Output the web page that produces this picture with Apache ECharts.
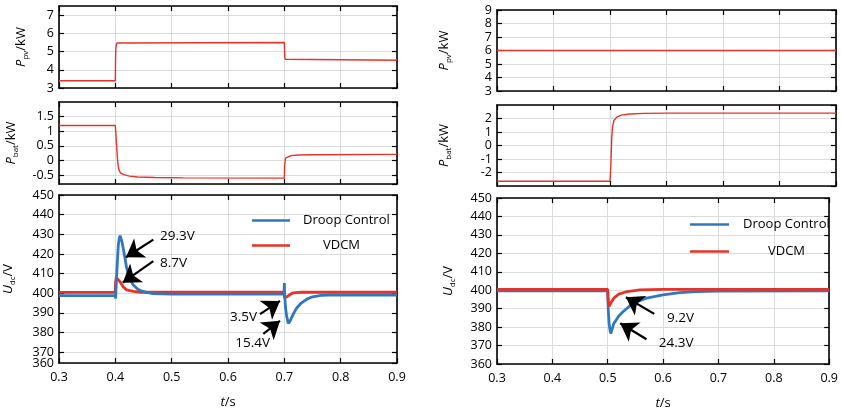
<!DOCTYPE html>
<html>
<head>
<meta charset="utf-8">
<script src="https://cdn.jsdelivr.net/npm/echarts@6/dist/echarts.min.js"></script>
<style>
  html, body { margin: 0; padding: 0; background: #fff; }
  #chart { width: 841px; height: 414px; }
</style>
</head>
<body>
<div id="chart"></div>
<script>
// ---- Case A (left column): PV step at 0.4 s and 0.7 s ----
const pvPowerA = [[0.3,3.4],[0.4,3.4],[0.4004,4.6],[0.4008,5.1],[0.4015,5.35],[0.403,5.47],[0.406,5.5],
  [0.7,5.5],[0.7004,5.0],[0.7008,4.7],[0.7015,4.58],[0.703,4.53],[0.9,4.52]];
const batPowerA = [[0.3,1.2],[0.4,1.2],[0.4005,1.25],[0.402,0.6],[0.404,0.0],[0.406,-0.3],[0.409,-0.42],
  [0.415,-0.48],[0.425,-0.53],[0.44,-0.56],[0.47,-0.58],[0.52,-0.59],[0.7,-0.6],[0.7005,-0.2],[0.702,0.08],
  [0.705,0.14],[0.712,0.17],[0.725,0.19],[0.75,0.2],[0.9,0.21]];
const udcDroopA = [[0.3,398.8],[0.3999,398.8],[0.4005,397.3],[0.4012,402],[0.4024,409.6],[0.404,418],
  [0.4053,424.5],[0.407,428],[0.4085,429.3],[0.41,428.6],[0.412,426],[0.416,419.7],[0.42,413],[0.425,407.9],
  [0.431,404.5],[0.44,402],[0.4485,400.9],[0.466,399.8],[0.5,399.6],[0.6995,399.6],[0.7,405.2],[0.7005,399.5],
  [0.702,393],[0.704,388.5],[0.707,384.6],[0.71,385.8],[0.716,389.5],[0.722,392.5],[0.73,395],[0.74,397],
  [0.75,398.2],[0.765,398.9],[0.78,399.1],[0.9,399.1]];
const udcVdcmA = [[0.3,400.4],[0.3999,400.4],[0.4003,405],[0.4015,408],[0.403,408.7],[0.405,407.5],
  [0.4083,405.9],[0.4142,403.2],[0.4201,401.7],[0.432,400.9],[0.445,400.5],[0.7,400.5],[0.7003,397.5],
  [0.7008,396.5],[0.703,397.3],[0.706,398.5],[0.709,399.4],[0.714,400],[0.72,400.3],[0.73,400.5],[0.9,400.5]];

// ---- Case B (right column): load step at 0.5 s ----
const pvPowerB = [[0.3,6],[0.9,6]];
const batPowerB = [[0.3,-2.65],[0.5,-2.65],[0.5015,-1.5],[0.503,0.5],[0.5045,1.4],[0.507,1.85],[0.512,2.1],
  [0.52,2.25],[0.535,2.33],[0.56,2.38],[0.6,2.4],[0.9,2.4]];
const udcDroopB = [[0.3,399.7],[0.5,399.7],[0.5005,394],[0.501,389],[0.5025,382],[0.504,378.5],[0.5055,376.5],
  [0.507,377.3],[0.5107,381.8],[0.52,386],[0.5285,388.6],[0.546,393],[0.57,395.7],[0.6,397.5],[0.63,398.7],
  [0.66,399.2],[0.7,399.5],[0.9,399.6]];
const udcVdcmB = [[0.3,400.5],[0.5,400.5],[0.5005,396],[0.5015,392.5],[0.503,391.3],[0.5052,393],[0.511,395.7],
  [0.52,397.9],[0.535,399.3],[0.558,400.2],[0.6,400.5],[0.9,400.5]];

// ---- deviation callouts (data coordinates) ----
const arrowsA = [
  { from: [0.4674, 427.3], to: [0.4189, 418.3] },
  { from: [0.4674, 416.3], to: [0.4131, 405.4] },
  { from: [0.6568, 389.4], to: [0.6923, 396.1] },
  { from: [0.6627, 379.3], to: [0.6923, 386.0] }
];
const calloutsA = [
  { text: '29.3V', at: [0.4793, 428.9], side: 'right' },
  { text: '8.7V',  at: [0.4793, 415.2], side: 'right' },
  { text: '3.5V',  at: [0.6515, 388.0], side: 'left' },
  { text: '15.4V', at: [0.6746, 374.7], side: 'left' }
];
const arrowsB = [
  { from: [0.584, 387.2], to: [0.5328, 396.2] },
  { from: [0.570, 373.4], to: [0.5225, 382.1] }
];
const calloutsB = [
  { text: '9.2V',  at: [0.6071, 385.1], side: 'right' },
  { text: '24.3V', at: [0.5922, 371.2], side: 'right' }
];

const seriesNames = ['Droop Control', 'VDCM'];
const timeRange = [0.3, 0.9];
const timeStep = 0.1;

const FONT = "'Open Sans', sans-serif";
const RED = '#e5332a';
const BLUE = '#2f78c0';

const frameLine = { show: true, onZero: false, lineStyle: { color: '#000', width: 1.6 } };
const innerTick = { show: true, inside: true, length: 5, lineStyle: { color: '#000', width: 1.2 } };
const gridLine = { show: true, lineStyle: { color: '#dcdcdc', width: 1 } };
const tickLabel = { color: '#000', fontFamily: FONT, fontSize: 12.5, hideOverlap: false };

const grids = [
  { left: 59,  top: 6,   width: 338, height: 82 },
  { left: 59,  top: 102, width: 338, height: 82 },
  { left: 59,  top: 195, width: 338, height: 168 },
  { left: 497, top: 10,  width: 339, height: 81 },
  { left: 497, top: 105, width: 339, height: 81 },
  { left: 497, top: 198, width: 339, height: 166 }
];

// y-axis ranges per panel; edgeLabel marks a panel whose lower edge carries its own label
const yRanges = [
  { min: 3,     max: 7.5, step: 1,   name: ['P', 'pv', '/kW'],  gap: 29, hideMin: false, hideMax: true },
  { min: -0.8,  max: 2,   step: 0.5, name: ['P', 'bat', '/kW'], gap: 39, hideMin: true,  hideMax: true },
  { min: 364.5, max: 450, step: 10,  name: ['U', 'dc', '/V'],   gap: 42, hideMin: true,  hideMax: false, edgeLabel: true },
  { min: 3,     max: 9,   step: 1,   name: ['P', 'pv', '/kW'],  gap: 44, hideMin: false, hideMax: false },
  { min: -3,    max: 3,   step: 1,   name: ['P', 'bat', '/kW'], gap: 44, hideMin: true,  hideMax: true },
  { min: 360,   max: 450, step: 10,  name: ['U', 'dc', '/V'],   gap: 40, hideMin: false, hideMax: false }
];

const nameRich = {
  i: { fontFamily: FONT, fontSize: 13, fontStyle: 'italic', color: '#000', lineHeight: 18, verticalAlign: 'middle' },
  s: { fontFamily: FONT, fontSize: 8, color: '#000', lineHeight: 18, verticalAlign: 'bottom' },
  u: { fontFamily: FONT, fontSize: 13, color: '#000', lineHeight: 18, verticalAlign: 'middle' }
};

const xAxes = [];
const yAxes = [];
grids.forEach((g, gi) => {
  const withLabels = gi === 2 || gi === 5;
  xAxes.push({
    type: 'value', gridIndex: gi, position: 'bottom',
    min: timeRange[0], max: timeRange[1], interval: timeStep,
    axisLine: frameLine, axisTick: innerTick, splitLine: gridLine,
    axisLabel: withLabels
      ? Object.assign({ show: true, margin: 8, formatter: v => v.toFixed(1) }, tickLabel)
      : { show: false },
    name: withLabels ? '{i|t}{u|/s}' : '',
    nameLocation: 'middle', nameGap: 30,
    nameTextStyle: { rich: nameRich }
  });
  xAxes.push({
    type: 'value', gridIndex: gi, position: 'top',
    min: timeRange[0], max: timeRange[1], interval: timeStep,
    axisLine: frameLine, axisTick: innerTick, splitLine: { show: false }, axisLabel: { show: false }
  });
  const r = yRanges[gi];
  yAxes.push({
    type: 'value', gridIndex: gi, position: 'left',
    min: r.min, max: r.max, minInterval: r.step, maxInterval: r.step,
    axisLine: frameLine, axisTick: innerTick, splitLine: gridLine,
    axisLabel: Object.assign({
      margin: 5, showMinLabel: !r.hideMin, showMaxLabel: !r.hideMax, formatter: v => String(v)
    }, tickLabel),
    name: '{i|' + r.name[0] + '}{s|' + r.name[1] + '}{u|' + r.name[2] + '}',
    nameLocation: 'middle', nameRotate: 90, nameGap: r.gap,
    nameTextStyle: { rich: nameRich }
  });
  yAxes.push({
    type: 'value', gridIndex: gi, position: 'right',
    min: r.min, max: r.max, minInterval: r.step, maxInterval: r.step,
    axisLine: frameLine, axisTick: innerTick, splitLine: { show: false }, axisLabel: { show: false }
  });
});

// lower-edge label of the left voltage panel, shown as the decade below the edge value
yRanges.forEach((r, gi) => {
  if (!r.edgeLabel) return;
  yAxes.push({
    type: 'value', gridIndex: gi, position: 'left',
    min: r.min, max: r.max, minInterval: r.step, maxInterval: r.step,
    axisLine: { show: false }, axisTick: { show: false }, splitLine: { show: false },
    axisLabel: Object.assign({
      margin: 5, customValues: [r.min], showMinLabel: true,
      formatter: v => String(Math.floor(v / r.step) * r.step)
    }, tickLabel)
  });
});

function lineSeries(name, gi, data, color, width, z) {
  return {
    name, type: 'line', xAxisIndex: gi * 2, yAxisIndex: gi * 2, data,
    symbol: 'none', showSymbol: false, z: z || 2,
    lineStyle: { color, width }, itemStyle: { color },
    emphasis: { disabled: true }
  };
}

function calloutSeries(gi, arrows, callouts) {
  return {
    type: 'line', xAxisIndex: gi * 2, yAxisIndex: gi * 2, data: [], z: 10,
    markLine: {
      silent: true, symbolSize: 17, animation: false,
      lineStyle: { color: '#000', width: 2.2, type: 'solid' },
      label: { show: false },
      emphasis: { disabled: true },
      data: arrows.map(a => [
        { coord: a.from, symbol: 'none' },
        { coord: a.to, symbol: 'arrow' }
      ])
    },
    markPoint: {
      silent: true, symbol: 'circle', symbolSize: 0, animation: false,
      label: { show: true, color: '#000', fontFamily: FONT, fontSize: 13.5, distance: 0, formatter: p => p.name },
      data: callouts.map(c => ({ name: c.text, coord: c.at, label: { position: c.side } }))
    }
  };
}

const legendText = (padD, padV) => ({
  formatter: n => n === 'VDCM' ? '{v|VDCM}' : '{d|Droop Control}',
  textStyle: {
    rich: {
      d: { fontFamily: FONT, fontSize: 13, color: '#000', lineHeight: 16, padding: [0, 0, 0, padD] },
      v: { fontFamily: FONT, fontSize: 13, color: '#000', lineHeight: 16, padding: [0, 0, 0, padV] }
    }
  }
});

const option = {
  animation: false,
  grid: grids,
  xAxis: xAxes,
  yAxis: yAxes,
  legend: [
    Object.assign({
      left: 247, top: 209, orient: 'vertical', icon: 'rect', itemWidth: 38, itemHeight: 2.5, itemGap: 12,
      selectedMode: false, data: seriesNames
    }, legendText(8, 28)),
    Object.assign({
      left: 685, top: 213, orient: 'vertical', icon: 'rect', itemWidth: 39, itemHeight: 2.5, itemGap: 14,
      selectedMode: false, data: seriesNames
    }, legendText(9, 34))
  ],
  series: [
    lineSeries('PpvA', 0, pvPowerA, RED, 1.4),
    lineSeries('PbatA', 1, batPowerA, RED, 1.4),
    lineSeries('VDCM', 2, udcVdcmA, RED, 2.8, 2),
    lineSeries('Droop Control', 2, udcDroopA, BLUE, 2.8, 3),
    calloutSeries(2, arrowsA, calloutsA),
    lineSeries('PpvB', 3, pvPowerB, RED, 1.4),
    lineSeries('PbatB', 4, batPowerB, RED, 1.4),
    lineSeries('Droop Control', 5, udcDroopB, BLUE, 2.8, 2),
    lineSeries('VDCM', 5, udcVdcmB, RED, 2.8, 3),
    calloutSeries(5, arrowsB, calloutsB)
  ]
};

const chart = echarts.init(document.getElementById('chart'), null, { renderer: 'canvas' });
chart.setOption(option);
</script>
</body>
</html>
